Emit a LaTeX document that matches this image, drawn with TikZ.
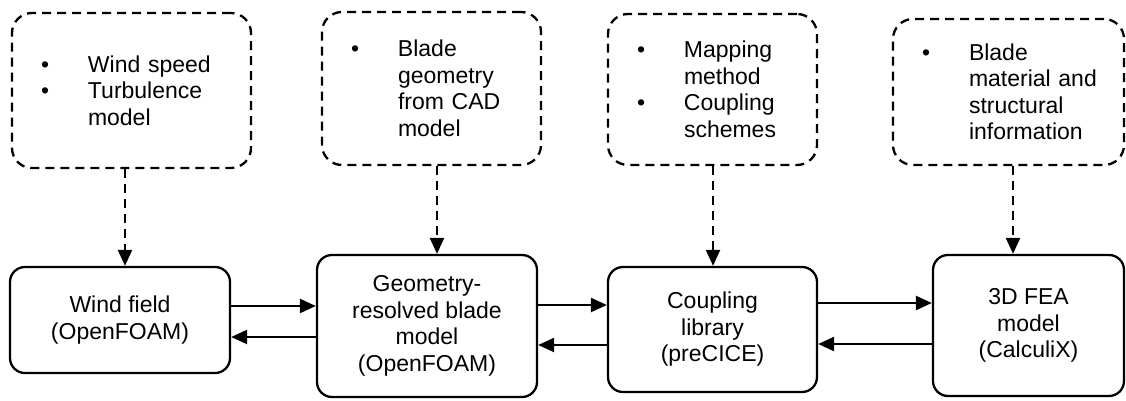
\documentclass[tikz,border=0pt]{standalone}
\usepackage{fontspec}
\setmainfont{Liberation Sans}
\usetikzlibrary{arrows.meta,positioning}

\newcommand{\bul}{\makebox[47pt][l]{\textbullet}}
\newcommand{\ind}{\hspace*{47pt}}

\begin{document}
\begin{tikzpicture}[
    x=1pt, y=-1pt,
    block/.style={rectangle,draw,line width=2.3pt,rounded corners=15pt,align=center,inner sep=0pt,font=\fontsize{23}{26.5}\selectfont},
    info/.style={rectangle,draw,line width=2.3pt,dash pattern=on 9pt off 6pt,rounded corners=20pt,align=left,inner xsep=29pt,inner ysep=0pt,font=\fontsize{23}{26.5}\selectfont},
    line/.style={draw,line width=2.3pt,-{Triangle[length=16pt,width=14pt]}},
    dline/.style={line,dash pattern=on 9pt off 6pt}]

    \useasboundingbox (0,0) rectangle (1126,401);

    % Input boxes
    \node[info, text width=181pt, minimum height=155pt] (windin) at (131.5,90.5)
        {\mbox{\bul Wind speed}\\ \mbox{\bul Turbulence}\\ \mbox{\ind model}};
    \node[info, text width=161pt, minimum height=153pt] (bladein) at (431.5,88.5)
        {\mbox{\bul Blade}\\ \mbox{\ind geometry}\\ \mbox{\ind from CAD}\\ \mbox{\ind model}};
    \node[info, text width=151pt, minimum height=151pt] (couplein) at (712.5,89.5)
        {\mbox{\bul Mapping}\\ \mbox{\ind method}\\ \mbox{\bul Coupling}\\ \mbox{\ind schemes}};
    \node[info, text width=173pt, minimum height=146pt] (matin) at (1008.5,92)
        {\mbox{\bul Blade}\\ \mbox{\ind material and}\\ \mbox{\ind structural}\\ \mbox{\ind information}};

    % Solver blocks
    \node[block, minimum width=220pt, minimum height=106pt] (wind) at (120,320) {Wind field\\(OpenFOAM)};
    \node[block, minimum width=220pt, minimum height=142pt] (blade) at (427,326) {Geometry-\\resolved blade\\model\\(OpenFOAM)};
    \node[block, minimum width=209pt, minimum height=125pt] (coupling) at (712.5,329.5) {Coupling\\library\\(preCICE)};
    \node[block, minimum width=191pt, minimum height=141pt] (fea) at (1028.5,325.5) {3D FEA\\model\\(CalculiX)};

    % Inputs to blocks
    \path[dline] ([xshift=5pt]wind.north |- windin.south) -- ([xshift=5pt]wind.north);
    \path[dline] ([xshift=10pt]blade.north |- bladein.south) -- ([xshift=10pt]blade.north);
    \path[dline] ([xshift=0.5pt]coupling.north |- couplein.south) -- ([xshift=0.5pt]coupling.north);
    \path[dline] ([xshift=-15.5pt]fea.north |- matin.south) -- ([xshift=-15.5pt]fea.north);

    % Data exchange
    \path[line] ([yshift=14pt]wind.east) -- ([yshift=14pt]wind.east -| blade.west);
    \path[line] ([yshift=-17pt]wind.east -| blade.west) -- ([yshift=-17pt]wind.east);
    \path[line] ([yshift=21pt]blade.east) -- ([yshift=21pt]blade.east -| coupling.west);
    \path[line] ([yshift=-19pt]blade.east -| coupling.west) -- ([yshift=-19pt]blade.east);
    \path[line] ([yshift=26.5pt]coupling.east) -- ([yshift=26.5pt]coupling.east -| fea.west);
    \path[line] ([yshift=-14.5pt]coupling.east -| fea.west) -- ([yshift=-14.5pt]coupling.east);
\end{tikzpicture}
\end{document}
